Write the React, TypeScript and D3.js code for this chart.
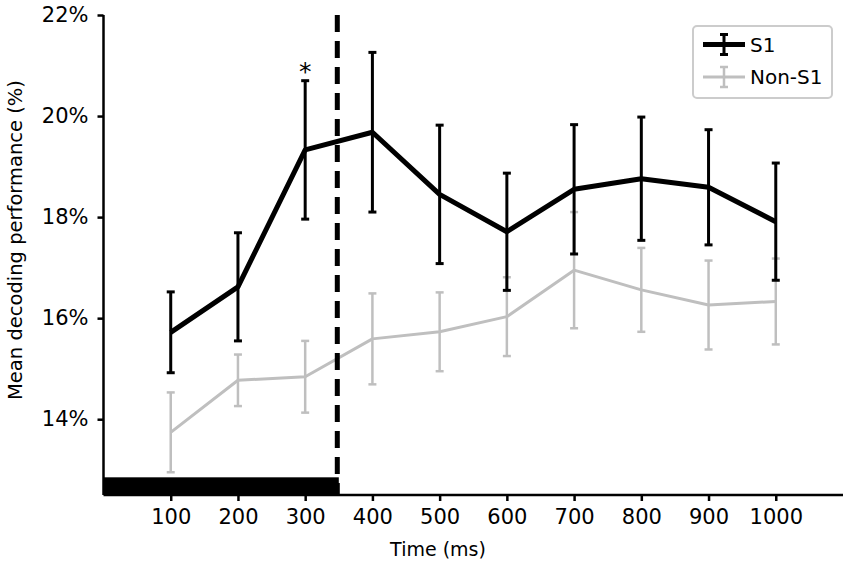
import React, { useEffect, useRef } from 'react';
import * as d3 from 'd3';

// time points (ms)
const times = [100, 200, 300, 400, 500, 600, 700, 800, 900, 1000];

// S1 mean decoding performance (%) and error
const s1Mean = [15.72, 16.62, 19.33, 19.68, 18.45, 17.71, 18.55, 18.76, 18.59, 17.91];
const s1Err = [0.8, 1.07, 1.37, 1.58, 1.37, 1.16, 1.28, 1.22, 1.14, 1.16];

// Non-S1 mean decoding performance (%) and error
const nonS1Mean = [13.74, 14.77, 14.84, 15.59, 15.73, 16.03, 16.95, 16.56, 16.26, 16.33];
const nonS1Err = [0.79, 0.51, 0.71, 0.9, 0.78, 0.78, 1.15, 0.83, 0.88, 0.85];

const yTicks = [14, 16, 18, 20, 22];
const stimWindow = [0, 350];
const starAt = 300;

const FONT = '"DejaVu Sans", sans-serif';

export default function App() {
  const ref = useRef<SVGSVGElement>(null);

  useEffect(() => {
    const svg = d3.select(ref.current);
    svg.selectAll('*').remove();

    const margin = { left: 103.5, right: 7, top: 15, bottom: 76 };
    const width = 850;
    const height = 571;

    const x = d3.scaleLinear().domain([0, 1100]).range([margin.left, width - margin.right]);
    const y = d3.scaleLinear().domain([12.5, 22]).range([height - margin.bottom, margin.top]);

    // axes
    const xAxis = d3
      .axisBottom(x)
      .tickValues(times)
      .tickSize(6)
      .tickPadding(8)
      .tickFormat((d) => `${d}`);
    const yAxis = d3
      .axisLeft(y)
      .tickValues(yTicks)
      .tickSize(6)
      .tickPadding(9)
      .tickFormat((d) => `${d}%`);

    const gx = svg.append('g').attr('transform', `translate(0, ${y(12.5)})`).call(xAxis);
    const gy = svg.append('g').attr('transform', `translate(${x(0)}, 0)`).call(yAxis);
    [gx, gy].forEach((g) => {
      g.attr('font-size', null).attr('font-family', null);
      g.select('.domain').attr('stroke', '#000').attr('stroke-width', 2.5);
      g.selectAll('.tick line').attr('stroke', '#000').attr('stroke-width', 2.5);
      g.selectAll('.tick text')
        .attr('fill', '#000')
        .style('font-family', FONT)
        .style('font-size', '21px');
    });
    // matplotlib-style spine without outer end ticks
    gx.select('.domain').attr('d', `M${x(0)},0H${x(1100)}`);
    gy.select('.domain').attr('d', `M0,${y(12.5)}V${y(22)}`);

    // axis labels
    svg
      .append('text')
      .attr('x', 438)
      .attr('y', 556)
      .attr('text-anchor', 'middle')
      .style('font-family', FONT)
      .style('font-size', '19px')
      .text('Time (ms)');
    svg
      .append('text')
      .attr('transform', `translate(22, 240) rotate(-90)`)
      .attr('text-anchor', 'middle')
      .style('font-family', FONT)
      .style('font-size', '19.5px')
      .text('Mean decoding performance (%)');

    // draw a series with error bars
    const drawSeries = (mean: number[], err: number[], color: string, lw: number, ew: number, cap: number) => {
      const g = svg.append('g');
      const line = d3
        .line<number>()
        .x((_, i) => x(times[i]))
        .y((d) => y(d));
      g.append('path')
        .attr('d', line(mean))
        .attr('fill', 'none')
        .attr('stroke', color)
        .attr('stroke-width', lw)
        .attr('stroke-linejoin', 'round');
      times.forEach((t, i) => {
        const cx = x(t);
        const lo = y(mean[i] - err[i]);
        const hi = y(mean[i] + err[i]);
        g.append('line')
          .attr('x1', cx)
          .attr('x2', cx)
          .attr('y1', lo)
          .attr('y2', hi)
          .attr('stroke', color)
          .attr('stroke-width', ew);
        [lo, hi].forEach((yy) => {
          g.append('line')
            .attr('x1', cx - cap)
            .attr('x2', cx + cap)
            .attr('y1', yy)
            .attr('y2', yy)
            .attr('stroke', color)
            .attr('stroke-width', ew);
        });
      });
    };

    drawSeries(nonS1Mean, nonS1Err, '#bfbfbf', 3, 2.5, 4);
    drawSeries(s1Mean, s1Err, '#000', 5, 3, 4);

    // stimulus bar
    svg
      .append('rect')
      .attr('x', x(stimWindow[0]))
      .attr('y', y(12.85))
      .attr('width', x(stimWindow[1]) - x(stimWindow[0]))
      .attr('height', y(12.5) - y(12.85))
      .attr('fill', '#000');

    // stimulus offset
    svg
      .append('line')
      .attr('x1', x(stimWindow[1]) - 1.5)
      .attr('x2', x(stimWindow[1]) - 1.5)
      .attr('y1', y(22))
      .attr('y2', y(12.5))
      .attr('stroke', '#000')
      .attr('stroke-width', 5)
      .attr('stroke-dasharray', '17, 9');

    // significance marker
    svg
      .append('text')
      .attr('x', x(starAt))
      .attr('y', 80)
      .attr('text-anchor', 'middle')
      .style('font-family', FONT)
      .style('font-size', '25px')
      .text('*');

    // legend
    const legend = svg.append('g').attr('transform', 'translate(693, 26)');
    legend
      .append('rect')
      .attr('width', 139)
      .attr('height', 72)
      .attr('rx', 4)
      .attr('fill', '#fff')
      .attr('stroke', '#cccccc')
      .attr('stroke-width', 2);
    const entries = [
      { label: 'S1', color: '#000', lw: 5, ew: 3, dy: 18.5 },
      { label: 'Non-S1', color: '#bfbfbf', lw: 3, ew: 2.5, dy: 51 },
    ];
    entries.forEach((e) => {
      const row = legend.append('g').attr('transform', `translate(0, ${e.dy})`);
      row.append('line').attr('x1', 10).attr('x2', 52).attr('stroke', e.color).attr('stroke-width', e.lw);
      row.append('line').attr('x1', 31).attr('x2', 31).attr('y1', -10).attr('y2', 10).attr('stroke', e.color).attr('stroke-width', e.ew);
      [-10, 10].forEach((yy) =>
        row.append('line').attr('x1', 27).attr('x2', 35).attr('y1', yy).attr('y2', yy).attr('stroke', e.color).attr('stroke-width', e.ew)
      );
      row
        .append('text')
        .attr('x', 57)
        .attr('y', 7)
        .style('font-family', FONT)
        .style('font-size', '20px')
        .text(e.label);
    });
  }, []);

  return (
    <svg
      ref={ref}
      width={850}
      height={571}
      style={{ position: 'absolute', left: 0, top: 0, background: '#fff' }}
    />
  );
}
